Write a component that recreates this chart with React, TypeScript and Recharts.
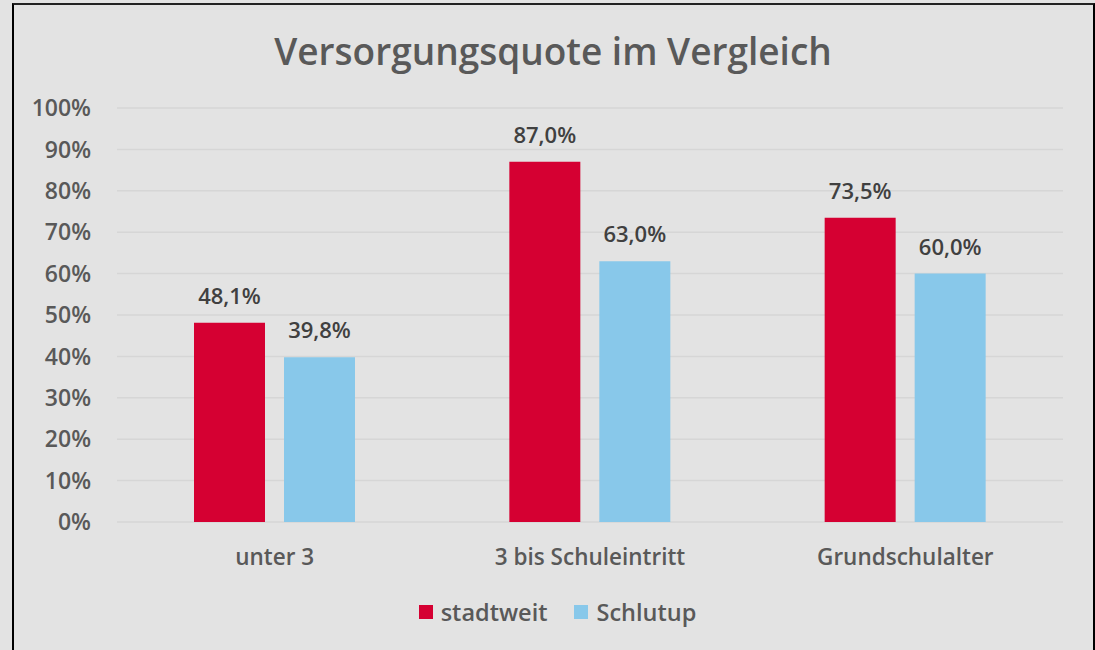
import React from 'react'
import { BarChart, Bar, XAxis, YAxis, CartesianGrid, LabelList } from 'recharts'

const categories = ['unter 3', '3 bis Schuleintritt', 'Grundschulalter']
const stadtweit = [48.1, 87.0, 73.5]
const schlutup = [39.8, 63.0, 60.0]
const yTicks = [0, 10, 20, 30, 40, 50, 60, 70, 80, 90, 100]

const RED = '#d50032'
const BLUE = '#88c8ea'
const BG = '#e3e3e3'
const FONT = '"Open Sans", "Noto Sans", sans-serif'

const series = [
  { key: 'stadtweit', name: 'stadtweit', color: RED },
  { key: 'schlutup', name: 'Schlutup', color: BLUE },
]

const data = categories.map((name, i) => ({ name, stadtweit: stadtweit[i], schlutup: schlutup[i] }))

const fmt = (v: any) => Number(v).toFixed(1).replace('.', ',') + '%'

const labelStyle = { fill: '#404040', fontSize: 22, fontFamily: FONT, fontWeight: 600 }

const App = () => {
  return (
    <div style={{ position: 'absolute', left: 0, top: 0, width: 1095, height: 650, background: BG, overflow: 'hidden' }}>
      <div style={{ position: 'absolute', left: 12, top: 3, width: 1079, height: 700, border: '2px solid #000', borderTopColor: '#222' }} />
      <div style={{ position: 'absolute', left: 12, width: 1082, top: 26, textAlign: 'center', fontFamily: FONT, fontSize: 37, fontWeight: 600, color: '#595959', lineHeight: '50px' }}>
        Versorgungsquote im Vergleich
      </div>
      <div style={{ position: 'absolute', left: 0, top: 0 }}>
        <BarChart width={1095} height={650} data={data} margin={{ top: 108, right: 32, bottom: 98, left: 0 }} barGap={19} barCategoryGap={77}>
          <CartesianGrid vertical={false} stroke="#d6d6d6" strokeWidth={1.5} />
          <XAxis dataKey="name" height={30} axisLine={false} tickLine={false} tickSize={0} tickMargin={27} interval={0}
            tick={{ fill: '#595959', fontSize: 22.5, fontFamily: FONT, fontWeight: 600 }} />
          <YAxis width={117} domain={[0, 100]} ticks={yTicks} axisLine={false} tickLine={false} tickSize={0} tickMargin={26}
            tickFormatter={(v: number) => v + '%'}
            tick={{ fill: '#595959', fontSize: 23, fontFamily: FONT, fontWeight: 600 }} />
          {series.map((s) => (
            <Bar key={s.key} dataKey={s.key} name={s.name} fill={s.color} isAnimationActive={false}>
              <LabelList dataKey={s.key} position="top" offset={19} formatter={fmt} style={labelStyle} />
            </Bar>
          ))}
        </BarChart>
      </div>
      <div style={{ position: 'absolute', left: 10, width: 1095, top: 596, display: 'flex', justifyContent: 'center', fontFamily: FONT, fontSize: 23.5, fontWeight: 600, color: '#595959', lineHeight: '32px' }}>
        {series.map((s, i) => (
          <div key={s.key} style={{ display: 'flex', alignItems: 'center', marginLeft: i ? 27 : 0 }}>
            <span style={{ width: 14, height: 14, background: s.color, display: 'inline-block', marginRight: 8 }} />
            <span>{s.name}</span>
          </div>
        ))}
      </div>
    </div>
  )
}

export default App
